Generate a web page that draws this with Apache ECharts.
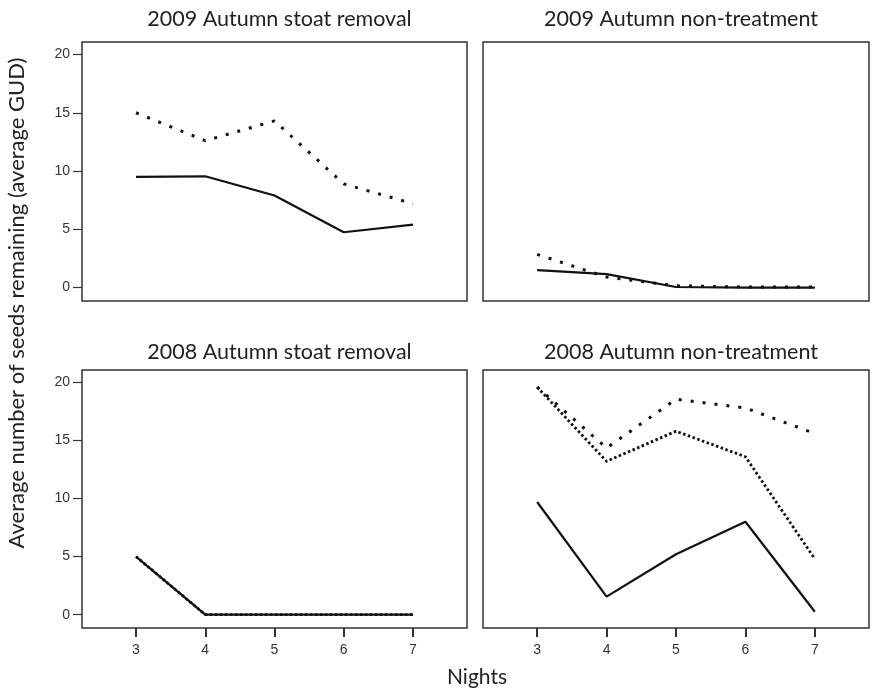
<!DOCTYPE html>
<html>
<head>
<meta charset="utf-8">
<script src="https://cdn.jsdelivr.net/npm/echarts@6/dist/echarts.min.js"></script>
<style>
    html, body { margin: 0; padding: 0; background: #fff; }
    #main { width: 875px; height: 697px; }
</style>
</head>
<body>
<div id="main"></div>
<script>
// 数据
const nights = [3, 4, 5, 6, 7];
const yTicks = [0, 5, 10, 15, 20];
const panelTitles = ['2009 Autumn stoat removal', '2009 Autumn non-treatment', '2008 Autumn stoat removal', '2008 Autumn non-treatment'];

const stoat2009Solid = [9.5, 9.55, 7.9, 4.75, 5.4];
const stoat2009Dotted = [15.0, 12.6, 14.3, 8.9, 7.2];
const non2009Solid = [1.5, 1.15, 0.05, 0, 0];
const non2009Dotted = [2.85, 0.9, 0.15, 0.05, 0.05];
const stoat2008Solid = [5.0, 0, 0, 0, 0];
const stoat2008Dense = [5.0, 0, 0, 0, 0];
const non2008Solid = [9.7, 1.55, 5.2, 8.0, 0.25];
const non2008Dense = [19.6, 13.2, 15.8, 13.6, 4.8];
const non2008Sparse = [19.6, 14.35, 18.55, 17.8, 15.6];

const chart = echarts.init(document.getElementById('main'));

const grids = [
    { left: 82, top: 42, width: 385, height: 259 },
    { left: 483, top: 42, width: 386, height: 259 },
    { left: 82, top: 370, width: 385, height: 258 },
    { left: 483, top: 370, width: 386, height: 258 }
];

const pair = vals => nights.map((n, i) => [n, vals[i]]);

const solid = { type: 'solid', width: 2.2, color: '#111' };
const sparse = { type: [3, 9], width: 3, color: '#111' };
const dense = { type: [2.5, 2.5], width: 2.8, color: '#111' };

const makeLine = (idx, vals, style) => ({
    type: 'line',
    xAxisIndex: idx,
    yAxisIndex: idx,
    data: pair(vals),
    symbol: 'none',
    silent: true,
    animation: false,
    lineStyle: style
});

const options = {
    backgroundColor: '#fff',
    animation: false,
    title: panelTitles.map((t, i) => ({
        text: t,
        left: grids[i].left + grids[i].width / 2,
        top: i < 2 ? 3 : 336,
        textAlign: 'center',
        textStyle: { fontFamily: 'Lato', fontSize: 21.5, fontWeight: 'normal', color: '#222' }
    })),
    grid: grids.map(g => Object.assign({ show: true, borderColor: '#333', borderWidth: 1.5 }, g)),
    xAxis: grids.map((g, i) => ({
        type: 'value',
        gridIndex: i,
        min: 2.22,
        max: 7.78,
        splitLine: { show: false },
        axisLine: { show: false, onZero: false },
        axisTick: { show: i >= 2, length: 9, customValues: nights, lineStyle: { color: '#333', width: 2 } },
        axisLabel: { show: i >= 2, customValues: nights, margin: 15, color: '#333', fontFamily: 'Liberation Sans', fontSize: 14 }
    })),
    yAxis: grids.map((g, i) => ({
        type: 'value',
        gridIndex: i,
        min: -1.15,
        max: 21.07,
        splitLine: { show: false },
        axisLine: { show: false, onZero: false },
        axisTick: { show: i % 2 === 0, length: 9, customValues: yTicks, lineStyle: { color: '#333', width: 1.2 } },
        axisLabel: { show: i % 2 === 0, customValues: yTicks, margin: 12, color: '#333', fontFamily: 'Liberation Sans', fontSize: 14 }
    })),
    graphic: [
        {
            type: 'text',
            x: 17,
            y: 303,
            rotation: Math.PI / 2,
            style: {
                text: 'Average number of seeds remaining (average GUD)',
                align: 'center',
                verticalAlign: 'middle',
                font: '22px Lato',
                fill: '#222'
            }
        },
        {
            type: 'text',
            x: 477,
            y: 677,
            style: {
                text: 'Nights',
                align: 'center',
                verticalAlign: 'middle',
                font: '21px Lato',
                fill: '#222'
            }
        }
    ],
    series: [
        makeLine(0, stoat2009Solid, solid),
        makeLine(0, stoat2009Dotted, sparse),
        makeLine(1, non2009Solid, solid),
        makeLine(1, non2009Dotted, sparse),
        makeLine(2, stoat2008Solid, solid),
        makeLine(2, stoat2008Dense, dense),
        makeLine(3, non2008Solid, solid),
        makeLine(3, non2008Dense, dense),
        makeLine(3, non2008Sparse, sparse)
    ]
};

chart.setOption(options);
</script>
</body>
</html>
